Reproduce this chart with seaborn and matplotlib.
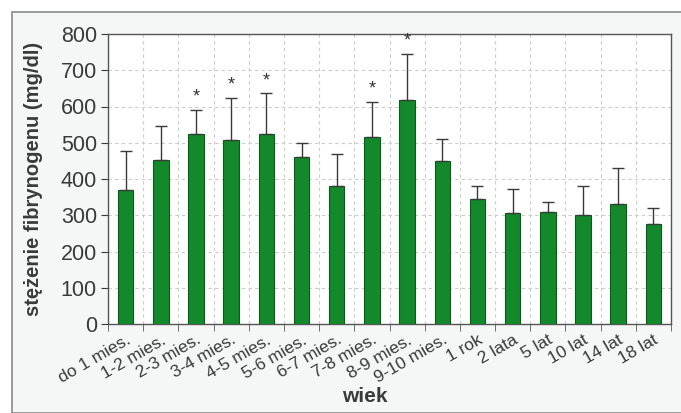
import matplotlib
matplotlib.use("Agg")
import matplotlib.pyplot as plt
import seaborn as sns
import pandas as pd
import numpy as np
from matplotlib.patches import Rectangle

categories = ["do 1 mies.", "1-2 mies.", "2-3 mies.", "3-4 mies.", "4-5 mies.", "5-6 mies.",
              "6-7 mies.", "7-8 mies.", "8-9 mies.", "9-10 mies.", "1 rok", "2 lata",
              "5 lat", "10 lat", "14 lat", "18 lat"]
means = [370, 453, 525, 508, 525, 462, 382, 515, 618, 450, 345, 306, 309, 300, 331, 275]
upper = [478, 547, 590, 624, 636, 498, 470, 612, 745, 509, 380, 373, 337, 381, 431, 321]
significant = [False, False, True, True, True, False, False, True, True, False,
               False, False, False, False, False, False]

sns.set_style("white")
plt.rcParams['font.family'] = ['Liberation Sans', 'DejaVu Sans']

txt = "#3a3a3a"
fig = plt.figure(figsize=(6.81, 4.13), dpi=100)
fig.patches.append(Rectangle((12/681, 0.0), 1.0, 1 - 12/413, transform=fig.transFigure,
                             facecolor="#f5f7f7", edgecolor="#8a8a8a", linewidth=1.2, zorder=-10))
ax = fig.add_axes([108/681, 1 - 324/413, (671 - 108)/681, (324 - 34)/413])

df = pd.DataFrame({"wiek": categories, "val": means})
sns.barplot(data=df, x="wiek", y="val", color="#13892c", edgecolor="#0a5a18",
            linewidth=0.8, width=0.44, ax=ax, saturation=1, zorder=3)

x = np.arange(len(categories))
err = np.array(upper) - np.array(means)
ax.errorbar(x, means, yerr=[np.zeros_like(err), err], fmt="none", ecolor="#3a3a3a",
            elinewidth=1.0, capsize=4, capthick=1.0, zorder=4)
for xi, u, s in zip(x, upper, significant):
    if s:
        ax.text(xi, u + 12, "*", ha="center", va="bottom", fontsize=13, color="#333333")

ax.set_facecolor("white")
ax.set_ylim(0, 800)
ax.set_xlim(-0.5, len(categories) - 0.5)
ax.set_yticks(range(0, 801, 100))
ax.tick_params(axis="y", labelsize=15.5, colors=txt, length=5, direction="out", left=True, pad=3)
ax.set_xticks(x)
ax.set_xticklabels(categories, rotation=30, ha="right", rotation_mode="anchor", fontsize=12.5,
                   color=txt)
ax.tick_params(axis="x", length=0, pad=6)
ax.set_xticks(np.arange(-0.5, len(categories), 1), minor=True)
ax.tick_params(axis="x", which="minor", length=5, bottom=True, direction="out", color="#555555")
ax.grid(False)
ax.grid(True, which="minor", axis="x", linestyle=(0, (3, 3)), color="#cccccc", linewidth=0.8, zorder=0)
ax.grid(True, which="major", axis="y", linestyle=(0, (3, 3)), color="#cccccc", linewidth=0.8, zorder=0)
ax.set_axisbelow(True)
for sp in ax.spines.values():
    sp.set_visible(True)
    sp.set_color("#555555")
    sp.set_linewidth(1.0)

ax.set_ylabel("stężenie fibrynogenu (mg/dl)", fontsize=14.5, fontweight="bold", color=txt)
ax.yaxis.set_label_coords(-0.115, 0.5)
ax.set_xlabel("")
fig.text(365/681, 1 - 396/413, "wiek", fontsize=15, fontweight="bold", color=txt,
         ha="center", va="center")

fig.savefig("out.png", dpi=100)
